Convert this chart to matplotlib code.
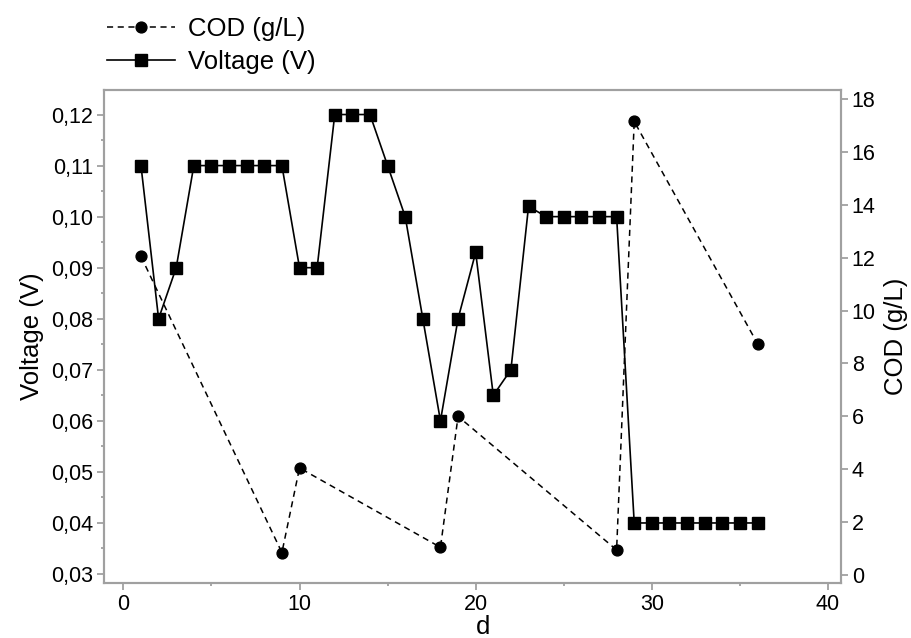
import matplotlib
matplotlib.use("Agg")
import matplotlib.pyplot as plt
from matplotlib.ticker import FuncFormatter, MultipleLocator

plt.rcParams['font.family'] = ['Liberation Sans', 'DejaVu Sans']

# Voltage (V) measured every day
days_voltage = list(range(1, 37))
voltage = [
    0.110, 0.080, 0.090, 0.110, 0.110, 0.110, 0.110, 0.110, 0.110,
    0.090, 0.090, 0.120, 0.120, 0.120, 0.110, 0.100, 0.080, 0.060,
    0.080, 0.093, 0.065, 0.070, 0.102, 0.100, 0.100, 0.100, 0.100,
    0.100, 0.040, 0.040, 0.040, 0.040, 0.040, 0.040, 0.040, 0.040
]

# COD (g/L) sampled on some days only
days_cod = [1, 9, 10, 18, 19, 28, 29, 36]
cod = [12.05, 0.85, 4.05, 1.05, 6.0, 0.95, 17.15, 8.75]

GRAY = '#a0a0a0'

fig = plt.figure(figsize=(9.12, 6.38), dpi=100)
ax = fig.add_axes([0.1144, 0.0862, 0.8074, 0.7727])
ax2 = ax.twinx()

lv, = ax.plot(days_voltage, voltage, color='black', linestyle='-', linewidth=1.2,
              marker='s', markersize=8.8, label='Voltage (V)')
lc, = ax2.plot(days_cod, cod, color='black', linestyle=(0, (4, 3)), linewidth=1.1,
               marker='o', markersize=7.8, label='COD (g/L)')

ax.set_xlim(-1.08, 40.72)
ax.set_ylim(0.02824, 0.1248)
ax2.set_ylim(-0.30, 18.34)

ax.xaxis.set_major_locator(MultipleLocator(10))
ax.xaxis.set_minor_locator(MultipleLocator(5))
ax.yaxis.set_major_locator(MultipleLocator(0.01))
ax.yaxis.set_minor_locator(MultipleLocator(0.005))
ax.yaxis.set_major_formatter(FuncFormatter(lambda v, p: f"{v:.2f}".replace('.', ',')))
ax2.yaxis.set_major_locator(MultipleLocator(2))

for a in (ax, ax2):
    for s in a.spines.values():
        s.set_color(GRAY)
        s.set_linewidth(1.5)
    a.tick_params(which='major', direction='out', length=5, width=1.3, color=GRAY,
                  labelsize=15.5, pad=3)
    a.tick_params(which='minor', direction='out', length=2.5, width=1.3, color=GRAY)

ax.set_xlabel('d', fontsize=18.5)
ax.xaxis.set_label_coords(0.515, -0.064)
ax.set_ylabel('Voltage (V)', fontsize=18.5, labelpad=5)
ax2.set_ylabel('COD (g/L)', fontsize=18.5, labelpad=6)

fig.legend(handles=[lc, lv], loc='upper left', bbox_to_anchor=(0.117, 0.973),
           frameon=False, fontsize=18.5, handlelength=2.65, handletextpad=0.5,
           labelspacing=0.35, borderpad=0, borderaxespad=0)

fig.savefig('out.png', dpi=100)
